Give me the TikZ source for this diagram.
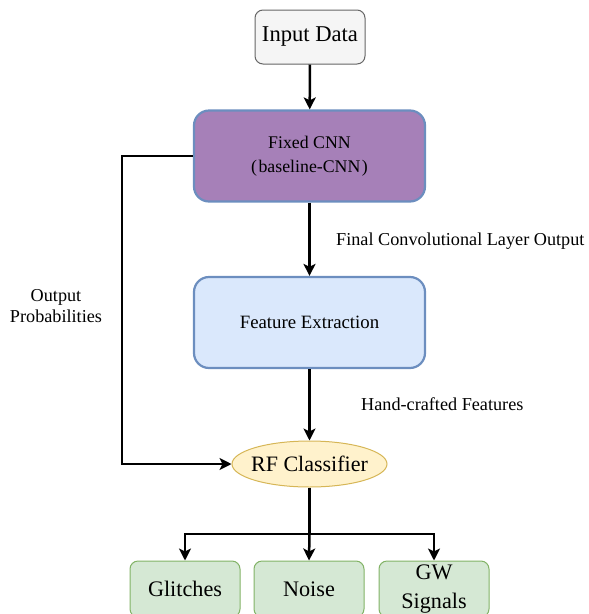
\documentclass[tikz,border=0pt]{standalone}
\usepackage{fontspec}
\setmainfont{Liberation Serif}
\usetikzlibrary{arrows.meta,shapes.geometric}
\definecolor{inpfill}{HTML}{F5F5F5}
\definecolor{inpline}{HTML}{666666}
\definecolor{cnnfill}{HTML}{A680B8}
\definecolor{blueline}{HTML}{6C8EBF}
\definecolor{fefill}{HTML}{DAE8FC}
\definecolor{rffill}{HTML}{FFF2CC}
\definecolor{rfline}{HTML}{D6B656}
\definecolor{gfill}{HTML}{D5E8D4}
\definecolor{gline}{HTML}{82B366}
\tikzset{
  inbox/.style={draw=inpline, fill=inpfill, line width=1pt, rounded corners=8pt, minimum width=110pt, minimum height=54pt, inner sep=0pt, font=\fontsize{22.6}{24}\selectfont},
  bigbox/.style={draw=blueline, line width=2.2pt, rounded corners=15pt, minimum width=231pt, minimum height=91pt, inner sep=0pt, align=center},
  rfnode/.style={ellipse, draw=rfline, fill=rffill, line width=1pt, minimum width=155pt, minimum height=46pt, inner xsep=-4pt, inner ysep=0pt, font=\fontsize{22}{24}\selectfont},
  outbox/.style={draw=gline, fill=gfill, line width=1pt, rounded corners=8pt, minimum width=110pt, minimum height=56pt, inner sep=0pt, align=center, font=\fontsize{22.2}{29}\selectfont},
  lbl/.style={inner sep=0pt, font=\fontsize{18.2}{21}\selectfont},
  arr/.style={line width=2.5pt, -{Stealth[length=12pt,width=12pt,inset=3pt]}},
  ln/.style={line width=2.5pt}
}
\begin{document}
\begin{tikzpicture}[x=1pt, y={(0pt,-1pt)}]
\useasboundingbox (0,0) rectangle (589,614);
\clip (0,0) rectangle (589,614);
\node[inbox] (inp) at (310,37) {Input Data};
\node[bigbox, fill=cnnfill, font=\fontsize{17.8}{24}\selectfont] (cnn) at (309.5,156) {Fixed CNN\\(\kern1.5pt baseline-CNN\kern1.5pt)};
\node[bigbox, fill=fefill, font=\fontsize{18.8}{24}\selectfont] (fe) at (309.5,322.5) {Feature Extraction};
\node[rfnode] (rf) at (309.5,464) {RF Classifier};
\node[outbox] (gl) at (185,589) {Glitches};
\node[outbox] (no) at (309,589) {Noise};
\node[outbox] (gw) at (434,589) {GW\\Signals};
\node[lbl, anchor=west] (l1) at (336,241) {Final Convolutional Layer Output};
\node[lbl, anchor=west] (l2) at (361,404) {Hand-crafted Features};
\node[lbl, align=center] (l3) at (56,306) {Output\\Probabilities};
\coordinate (lc) at (122,156);
\coordinate (br) at (309.5,534);
\draw[arr] (inp) -- (cnn);
\draw[arr] (cnn) -- (fe);
\draw[arr] (fe) -- (rf);
\draw[arr] (cnn.west) -- (lc) |- (rf.west);
\draw[ln] (rf.south) -- (br);
\draw[arr] (br) -| (gl.north);
\draw[arr] (br) -| (gw.north);
\draw[arr] (br) -- (no.north);
\end{tikzpicture}
\end{document}
